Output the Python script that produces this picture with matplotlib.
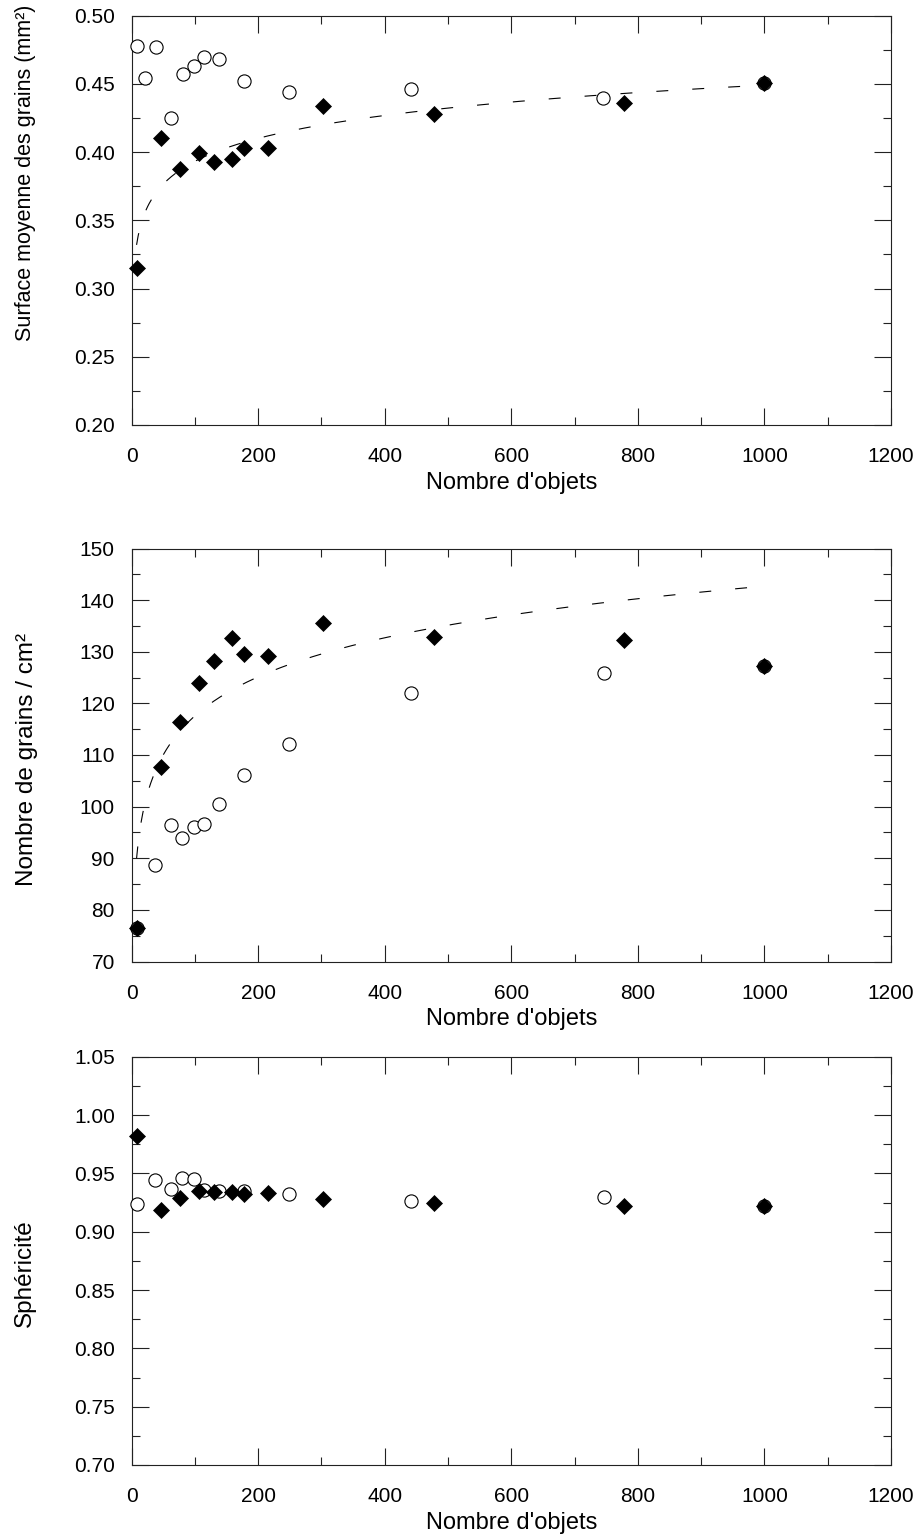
import numpy as np
import matplotlib
matplotlib.use("Agg")
import matplotlib.pyplot as plt
from matplotlib.ticker import MultipleLocator, FormatStrFormatter

plt.rcParams['font.family'] = ['Liberation Sans', 'DejaVu Sans']
plt.rcParams['lines.scale_dashes'] = False

# ---- data ----
x_diam = [8, 46, 76, 107, 131, 159, 178, 216, 303, 478, 778, 1000]
surf_diam = [0.315, 0.410, 0.388, 0.399, 0.393, 0.395, 0.403, 0.403, 0.434, 0.428, 0.436, 0.451]
x_circ_surf = [8, 21, 38, 63, 81, 98, 115, 138, 178, 249, 441, 745, 1000]
surf_circ = [0.478, 0.454, 0.477, 0.425, 0.457, 0.463, 0.470, 0.468, 0.452, 0.444, 0.446, 0.440, 0.451]

x_circ = [8, 37, 63, 80, 98, 115, 138, 178, 249, 441, 746, 1000]
nb_diam = [76.5, 107.6, 116.3, 123.9, 128.3, 132.6, 129.6, 129.2, 135.5, 132.8, 132.3, 127.3]
nb_circ = [76.5, 88.6, 96.5, 93.9, 96.0, 96.6, 100.5, 106.1, 112.1, 122.0, 125.9, 127.3]

sph_diam = [0.982, 0.919, 0.929, 0.935, 0.934, 0.934, 0.932, 0.933, 0.928, 0.925, 0.922, 0.922]
sph_circ = [0.924, 0.944, 0.937, 0.946, 0.945, 0.936, 0.935, 0.935, 0.932, 0.926, 0.930, 0.922]

ylabels = ["Surface moyenne des grains (mm²)", "Nombre de grains / cm²", "Sphéricité"]
xlabel = "Nombre d'objets"

W, H = 921, 1539
fig = plt.figure(figsize=(W / 100, H / 100), dpi=100)

def px_axes(left, right, top, bottom):
    return [left / W, 1 - bottom / H, (right - left) / W, (bottom - top) / H]

panels = [
    dict(rect=px_axes(131.5, 891, 15.7, 425), ylim=(0.20, 0.50), major=0.05, minor=0.025,
         fmt='%.2f', xd=x_diam, yd=surf_diam, xc=x_circ_surf, yc=surf_circ, fit=True,
         ylabel=ylabels[0], ylsize=15.5, ylx=-0.140, yly=0.617),
    dict(rect=px_axes(131.5, 891, 548.5, 961.5), ylim=(70, 150), major=10, minor=5,
         fmt='%d', xd=x_diam, yd=nb_diam, xc=x_circ, yc=nb_circ, fit=True,
         ylabel=ylabels[1], ylsize=17.5, ylx=-0.137, yly=0.49),
    dict(rect=px_axes(131.5, 891, 1056.7, 1465), ylim=(0.70, 1.05), major=0.05, minor=0.025,
         fmt='%.2f', xd=x_diam, yd=sph_diam, xc=x_circ, yc=sph_circ, fit=False,
         ylabel=ylabels[2], ylsize=17.5, ylx=-0.140, yly=0.47),
]

for p in panels:
    ax = fig.add_axes(p['rect'])
    ax.set_xlim(0, 1200)
    ax.set_ylim(*p['ylim'])
    ax.xaxis.set_major_locator(MultipleLocator(200))
    ax.xaxis.set_minor_locator(MultipleLocator(100))
    ax.yaxis.set_major_locator(MultipleLocator(p['major']))
    ax.yaxis.set_minor_locator(MultipleLocator(p['minor']))
    ax.yaxis.set_major_formatter(FormatStrFormatter(p['fmt']))
    ax.tick_params(which='both', direction='in', top=True, right=True, width=0.8, color='#222222')
    ax.tick_params(which='major', length=12)
    ax.tick_params(which='minor', length=6)
    ax.tick_params(axis='x', which='major', pad=16, labelsize=15)
    ax.tick_params(axis='y', which='major', pad=12, labelsize=15)
    for s in ax.spines.values():
        s.set_linewidth(0.8)
        s.set_color('#222222')

    if p['fit']:
        coef = np.polyfit(np.log(p['xd']), p['yd'], 1)
        xf = np.linspace(min(p['xd']), max(p['xd']), 400)
        ax.plot(xf, np.polyval(coef, np.log(xf)), color='black', lw=0.8,
                linestyle=(0, (8.6, 17.3)), zorder=2)

    ax.plot(p['xc'], p['yc'], linestyle='none', marker='o', ms=9.5, mfc='white',
            mec='black', mew=0.8, zorder=3, clip_on=False)
    ax.plot(p['xd'], p['yd'], linestyle='none', marker='D', ms=8.2, mfc='black',
            mec='black', mew=0.5, zorder=4, clip_on=False)

    ax.set_xlabel(xlabel, fontsize=17, va='center')
    ax.xaxis.set_label_coords(0.5, -58 / (p['rect'][3] * H))
    ax.set_ylabel(p['ylabel'], fontsize=p['ylsize'], va='center', ha='center')
    ax.yaxis.set_label_coords(p['ylx'], p['yly'])

fig.savefig("out.png", dpi=100)
